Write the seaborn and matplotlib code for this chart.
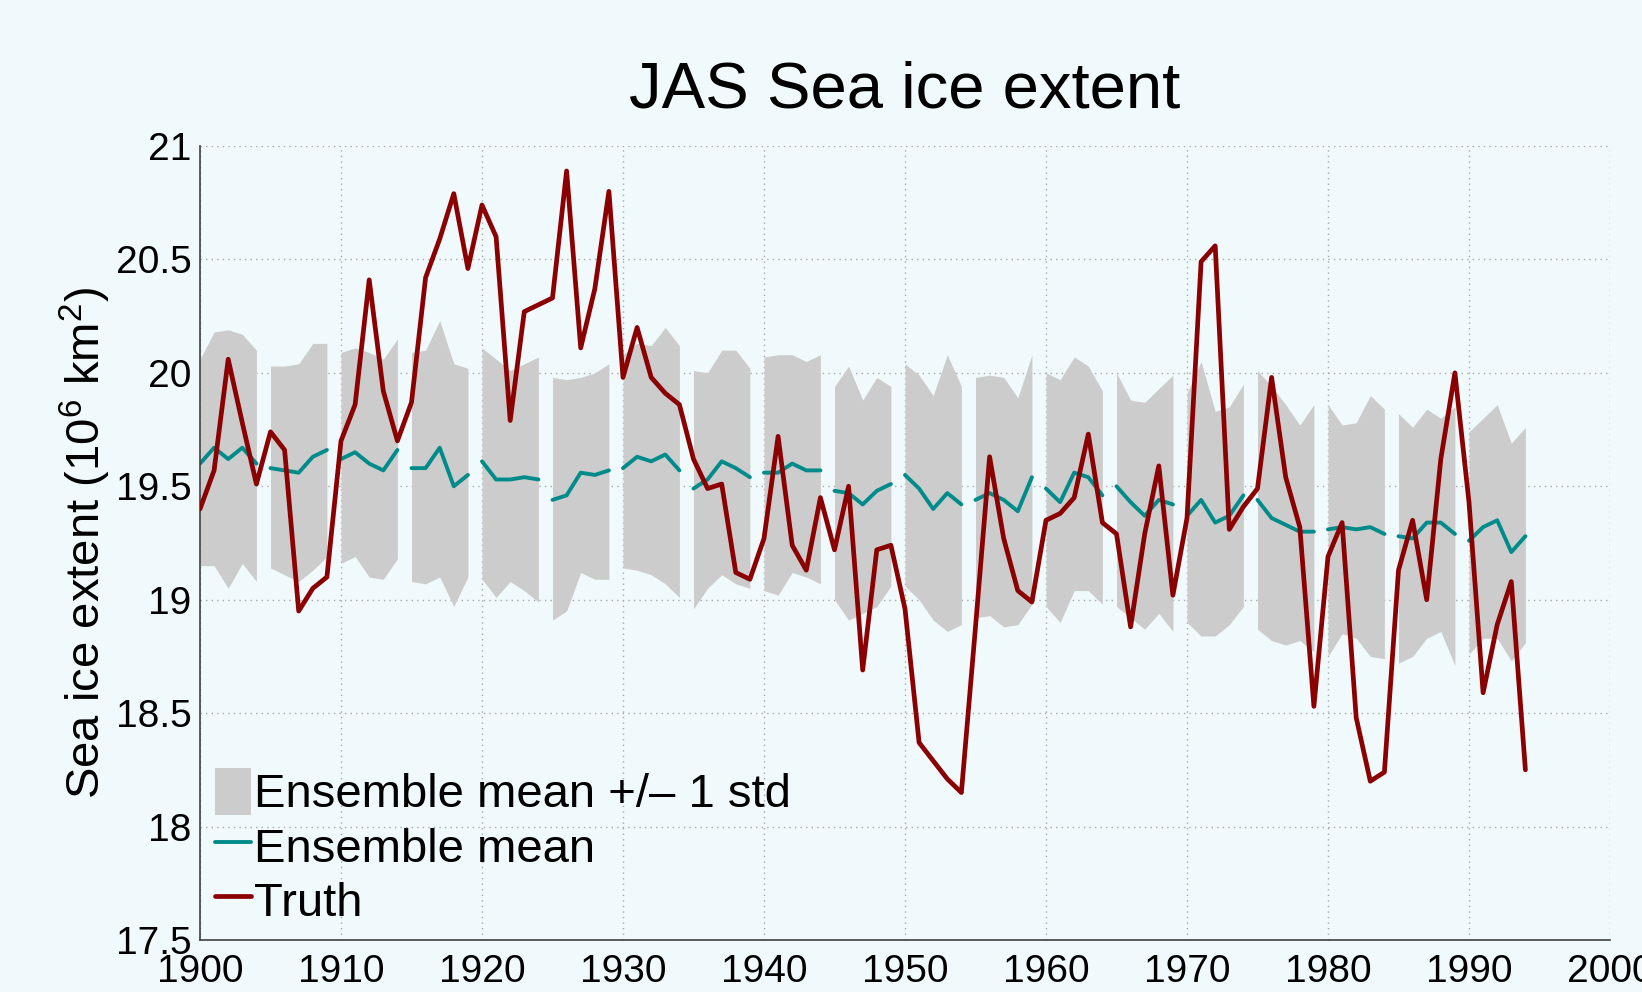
import numpy as np
import pandas as pd
import matplotlib
matplotlib.use("Agg")
import matplotlib.pyplot as plt
import seaborn as sns
from matplotlib.patches import Patch
from matplotlib.lines import Line2D

years = list(range(1900, 1995))

truth = [19.40, 19.57, 20.06, 19.78, 19.51, 19.74, 19.66, 18.95, 19.05, 19.10,
         19.70, 19.86, 20.41, 19.92, 19.70, 19.87, 20.42, 20.59, 20.79, 20.46,
         20.74, 20.60, 19.79, 20.27, 20.30, 20.33, 20.89, 20.11, 20.37, 20.80,
         19.98, 20.20, 19.98, 19.91, 19.86, 19.62, 19.49, 19.51, 19.12, 19.09,
         19.27, 19.72, 19.24, 19.13, 19.45, 19.22, 19.50, 18.69, 19.22, 19.24,
         18.96, 18.37, 18.29, 18.21, 18.15, 18.88, 19.63, 19.27, 19.04, 18.99,
         19.35, 19.38, 19.45, 19.73, 19.34, 19.29, 18.88, 19.29, 19.59, 19.02,
         19.36, 20.49, 20.56, 19.31, 19.41, 19.49, 19.98, 19.54, 19.32, 18.53,
         19.19, 19.34, 18.48, 18.20, 18.24, 19.13, 19.35, 19.00, 19.62, 20.00,
         19.43, 18.59, 18.89, 19.08, 18.25]

ens_mean = [19.60, 19.67, 19.62, 19.67, 19.60, 19.58, 19.57, 19.56, 19.63, 19.66,
            19.62, 19.65, 19.60, 19.57, 19.66, 19.58, 19.58, 19.67, 19.50, 19.55,
            19.61, 19.53, 19.53, 19.54, 19.53, 19.44, 19.46, 19.56, 19.55, 19.57,
            19.58, 19.63, 19.61, 19.64, 19.57, 19.49, 19.53, 19.61, 19.58, 19.54,
            19.56, 19.56, 19.60, 19.57, 19.57, 19.48, 19.47, 19.42, 19.48, 19.51,
            19.55, 19.49, 19.40, 19.47, 19.42, 19.44, 19.47, 19.44, 19.39, 19.54,
            19.49, 19.43, 19.56, 19.54, 19.46, 19.50, 19.43, 19.37, 19.44, 19.42,
            19.37, 19.44, 19.34, 19.37, 19.46, 19.44, 19.36, 19.33, 19.30, 19.30,
            19.31, 19.32, 19.31, 19.32, 19.29, 19.28, 19.27, 19.34, 19.34, 19.29,
            19.26, 19.32, 19.35, 19.21, 19.28]

ens_upper = [20.06, 20.18, 20.19, 20.17, 20.10, 20.03, 20.03, 20.04, 20.13, 20.13,
             20.09, 20.11, 20.09, 20.06, 20.15, 20.09, 20.10, 20.23, 20.04, 20.02,
             20.11, 20.06, 20.01, 20.04, 20.07, 19.98, 19.97, 19.98, 20.00, 20.04,
             20.08, 20.13, 20.12, 20.20, 20.12, 20.01, 20.00, 20.10, 20.10, 20.02,
             20.07, 20.08, 20.08, 20.05, 20.08, 19.94, 20.03, 19.88, 19.98, 19.94,
             20.04, 19.99, 19.90, 20.08, 19.94, 19.98, 19.99, 19.98, 19.89, 20.08,
             20.00, 19.97, 20.07, 20.03, 19.92, 20.00, 19.88, 19.87, 19.93, 19.99,
             19.91, 20.05, 19.83, 19.85, 19.95, 20.01, 19.94, 19.86, 19.77, 19.86,
             19.86, 19.77, 19.78, 19.90, 19.84, 19.82, 19.76, 19.84, 19.80, 19.85,
             19.74, 19.80, 19.86, 19.69, 19.76]

ens_lower = [19.15, 19.15, 19.05, 19.16, 19.08, 19.14, 19.11, 19.08, 19.13, 19.19,
             19.16, 19.19, 19.10, 19.09, 19.18, 19.08, 19.07, 19.10, 18.97, 19.10,
             19.09, 19.01, 19.08, 19.04, 18.99, 18.91, 18.95, 19.12, 19.09, 19.09,
             19.14, 19.13, 19.11, 19.07, 19.01, 18.96, 19.05, 19.11, 19.07, 19.05,
             19.04, 19.02, 19.12, 19.10, 19.07, 19.00, 18.91, 18.94, 18.97, 19.06,
             19.06, 19.00, 18.91, 18.86, 18.89, 18.92, 18.93, 18.88, 18.89, 18.98,
             18.97, 18.90, 19.04, 19.04, 18.98, 18.97, 18.92, 18.87, 18.94, 18.86,
             18.90, 18.84, 18.84, 18.89, 18.97, 18.87, 18.82, 18.80, 18.82, 18.77,
             18.75, 18.85, 18.83, 18.75, 18.74, 18.72, 18.75, 18.83, 18.86, 18.71,
             18.76, 18.83, 18.83, 18.73, 18.81]

x_ticks = [1900, 1910, 1920, 1930, 1940, 1950, 1960, 1970, 1980, 1990, 2000]
y_ticks = [17.5, 18, 18.5, 19, 19.5, 20, 20.5, 21]
y_tick_labels = ["17.5", "18", "18.5", "19", "19.5", "20", "20.5", "21"]

title = "JAS Sea ice extent"
xlabel = "Year"
ylabel = r"Sea ice extent (10$^6$ km$^2$)"
legend_labels = ["Ensemble mean +/\u2013 1 std", "Ensemble mean", "Truth"]

BG = "#f0fafd"
BAND = "#cccccc"
TEAL = "#008b8b"
RED = "#8b0000"

df = pd.DataFrame({"year": years, "truth": truth, "mean": ens_mean,
                   "upper": ens_upper, "lower": ens_lower})
df["chunk"] = (df["year"] - 1900) // 5

sns.set_style("white")
plt.rcParams["font.family"] = ["Liberation Sans", "DejaVu Sans"]
plt.rcParams["mathtext.fontset"] = "custom"
plt.rcParams["mathtext.rm"] = "Liberation Sans"
plt.rcParams["mathtext.it"] = "Liberation Sans"
plt.rcParams["text.color"] = "black"
plt.rcParams["axes.labelcolor"] = "black"

fig = plt.figure(figsize=(16.42, 9.92), dpi=100, facecolor=BG)
ax = fig.add_axes([200 / 1642, 52 / 992, 1410 / 1642, 794 / 992])
ax.set_facecolor(BG)

for c, g in df.groupby("chunk"):
    ax.fill_between(g["year"], g["lower"], g["upper"], color=BAND, lw=0, zorder=1)
    sns.lineplot(data=g, x="year", y="mean", color=TEAL, lw=2.8, ax=ax,
                 zorder=2, legend=False)

sns.lineplot(data=df, x="year", y="truth", color=RED, lw=3.4, ax=ax,
             zorder=3, legend=False)

ax.set_xlim(1900, 2000)
ax.set_ylim(17.5, 21)
ax.set_xticks(x_ticks)
ax.set_yticks(y_ticks)
ax.set_yticklabels(y_tick_labels)

ax.grid(True, color="#a8a8a8", linestyle=(0, (1, 3)), linewidth=1.0)
ax.set_axisbelow(True)
for s in ["top", "right"]:
    ax.spines[s].set_visible(False)
for s in ["left", "bottom"]:
    ax.spines[s].set_color("#404040")
    ax.spines[s].set_linewidth(1.2)

ax.tick_params(axis="both", direction="in", length=11, width=1.0,
               color="#404040", labelsize=28, labelcolor="black")
ax.tick_params(axis="x", pad=10)
ax.tick_params(axis="y", pad=6)

ax.set_title(title, fontsize=47, pad=28, color="black")
ax.set_xlabel(xlabel, fontsize=34, labelpad=4, color="black")
ax.set_ylabel(ylabel, fontsize=34, labelpad=2, color="black")

handles = [Patch(facecolor=BAND, edgecolor="none"),
           Line2D([0], [0], color=TEAL, lw=2.8),
           Line2D([0], [0], color=RED, lw=3.4)]
leg = ax.legend(handles, legend_labels, loc="lower left",
                bbox_to_anchor=(0.004, 0.006),
                frameon=False, fontsize=34, handlelength=0.75, handleheight=1.15,
                handletextpad=0.08, labelspacing=0.1, borderaxespad=0.0,
                borderpad=0.2)
for t in leg.get_texts():
    t.set_color("black")

fig.savefig("out.png", dpi=100, facecolor=BG)
